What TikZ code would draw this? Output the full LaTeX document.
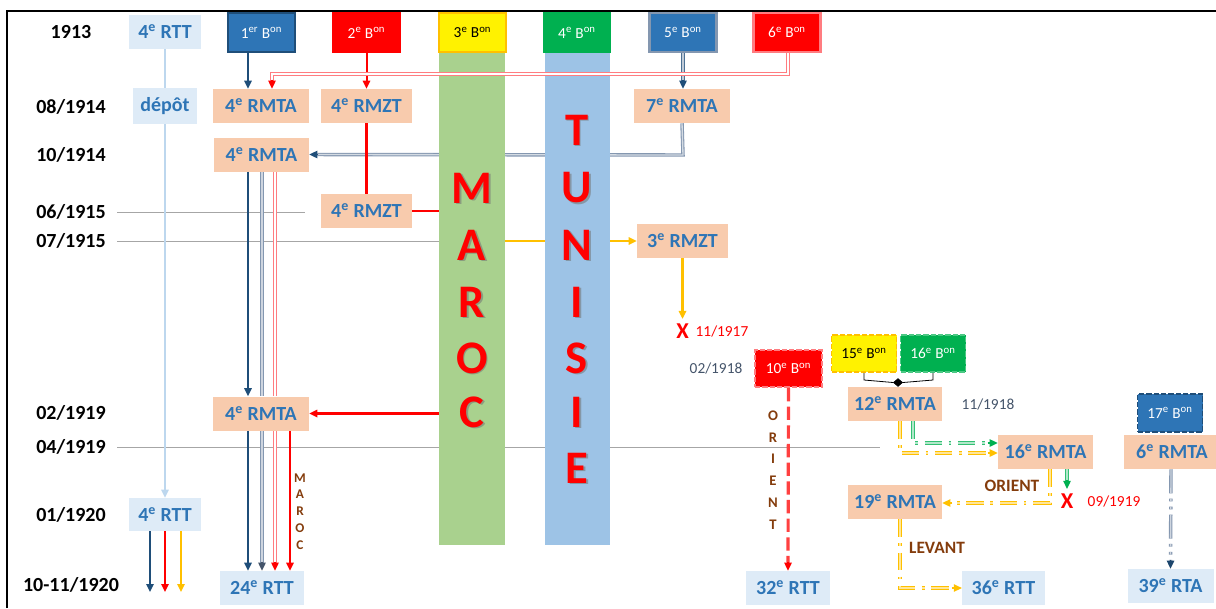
\documentclass[tikz,border=0pt]{standalone}
\usepackage{fontspec}
\setmainfont{Carlito}
\usetikzlibrary{arrows.meta,shapes.geometric,calc}
\definecolor{salmon}{HTML}{F8CBAD}
\definecolor{tblue}{HTML}{2E75B6}
\definecolor{ltbox}{HTML}{DEEBF7}
\definecolor{navy}{HTML}{1F4E79}
\definecolor{bonblue}{HTML}{2E75B6}
\definecolor{bongreen}{HTML}{00B050}
\definecolor{amber}{HTML}{FFC000}
\definecolor{brownish}{HTML}{843C0C}
\definecolor{bandg}{HTML}{A9D18E}
\definecolor{bandb}{HTML}{9DC3E6}
\definecolor{rttline}{HTML}{BDD7EE}
\definecolor{slate}{HTML}{44546A}
\definecolor{lred}{HTML}{FF7C80}
\definecolor{bgrey}{HTML}{8497B0}
\definecolor{gridgrey}{HTML}{A6A6A6}
\begin{document}
\begin{tikzpicture}[x=0.75pt,y=-0.75pt,
  yr/.style={font=\bfseries\fontsize{15}{18}\selectfont},
  salm/.style={fill=salmon,text=tblue,font=\bfseries\fontsize{15}{18}\selectfont,inner sep=0pt,minimum height=25.5pt},
  ltb/.style={fill=ltbox,text=tblue,font=\bfseries\fontsize{15}{18}\selectfont,inner sep=0pt,minimum height=25.5pt},
  bon/.style={font=\fontsize{11.5}{13}\selectfont,inner sep=0pt,minimum width=50.25pt,minimum height=29.25pt,text=white,line width=1.2pt},
  sbon/.style={bon,minimum width=48.75pt,minimum height=28pt,dashed,dash pattern=on 4pt off 1.5pt},
  band/.style={inner sep=0pt,minimum height=369.75pt},
  big/.style={font=\bfseries\fontsize{35}{40}\selectfont,text=red},
  bigsh/.style={font=\bfseries\fontsize{35}{40}\selectfont,text=black!55,opacity=.55},
  note/.style={font=\fontsize{11.5}{13}\selectfont},
  lbl/.style={font=\bfseries\fontsize{13}{15}\selectfont,text=brownish},
  xmark/.style={font=\bfseries\fontsize{17}{19}\selectfont,text=red},
  tipA/.style={-{Triangle[length=6pt,width=5.5pt]}},
  gridl/.style={draw=gridgrey,line width=0.7pt},
  dashdot/.style={dash pattern=on 13pt off 5pt on 2pt off 5pt},
]
\useasboundingbox (0,0) rectangle (1216,608);

% frame
\draw[line width=1.5pt] (7,608) -- (7,11) -- (1216,11);

% time axis
\node[yr] (y1913) at (71,32) {1913};
\node[yr] (y0814) at (71,107) {08/1914};
\node[yr] (y1014) at (71,155) {10/1914};
\node[yr] (y0615) at (71,212) {06/1915};
\node[yr] (y0715) at (71,241) {07/1915};
\node[yr] (y0219) at (71,413) {02/1919};
\node[yr] (y0419) at (71,447) {04/1919};
\node[yr] (y0120) at (71,515) {01/1920};
\node[yr] (y1120) at (71,585) {10-11/1920};

\draw[gridl] (117,212) -- (305,212);
\draw[gridl] (117,241) -- (440,241);
\draw[gridl] (117,447) -- (880,447);

% salmon regiment boxes
\node[salm,minimum width=72pt] (a1) at (261,106) {4\textsuperscript{e} RMTA};
\node[salm,minimum width=68.25pt] (z1) at (366.5,106) {4\textsuperscript{e} RMZT};
\node[salm,minimum width=72pt] (r7) at (682,106) {7\textsuperscript{e} RMTA};
\node[salm,minimum width=71.25pt] (a2) at (261.5,154.5) {4\textsuperscript{e} RMTA};
\node[salm,minimum width=68.25pt] (z2) at (366.5,211) {4\textsuperscript{e} RMZT};
\node[salm,minimum width=68.25pt] (z3) at (682.5,241) {3\textsuperscript{e} RMZT};

% connectors running behind the bands
\draw[draw=bgrey,double=bgrey!35,double distance=1pt,line width=0.8pt] (r7.south) -- (683,155) -- ($(a2.east)+(8,0)$);
\draw[draw=navy,line width=1pt,tipA] ($(a2.east)+(9,0)$) -- (a2.east);
\draw[draw=amber,line width=2pt,tipA] (505,241) -- (z3.west);

% bands
\node[band,fill=bandg,minimum width=49.5pt] (maroc) at (472,298.5) {};
\node[band,fill=bandb,minimum width=48.75pt] (tunisie) at (577.5,298.5) {};
\foreach \l/\yy [count=\i] in {M/188,A/245,R/302,O/358,C/412}{
  \node[bigsh] (mas\i) at (473.5,\yy+1.5) {\l};
  \node[big] (ma\i) at (472,\yy) {\l};
}
\foreach \l/\yy [count=\i] in {T/130,U/188,N/245,I/302,S/358,I/412,E/468}{
  \node[bigsh] (tus\i) at (578.5,\yy+1.5) {\l};
  \node[big] (tu\i) at (577,\yy) {\l};
}

% battalions, 1913
\node[bon,fill=bonblue,draw=navy] (b1) at (261.5,32.5) {1\textsuperscript{er} B\textsuperscript{on}};
\node[bon,fill=red,draw=red] (b2) at (366.5,32.5) {2\textsuperscript{e} B\textsuperscript{on}};
\node[bon,fill=yellow,draw=amber,text=black,line width=1.6pt] (b3) at (472.5,32.5) {3\textsuperscript{e} B\textsuperscript{on}};
\node[bon,fill=bongreen,draw=bongreen] (b4) at (577,32.5) {4\textsuperscript{e} B\textsuperscript{on}};
\node[bon,fill=bonblue,draw=bgrey,line width=1.6pt] (b5) at (683,32.5) {5\textsuperscript{e} B\textsuperscript{on}};
\node[bon,fill=red,draw=lred,line width=1.6pt] (b6) at (787,32.5) {6\textsuperscript{e} B\textsuperscript{on}};

% 4e RTT column
\node[ltb,minimum width=54pt] (t1) at (165,32) {4\textsuperscript{e} RTT};
\node[ltb,minimum width=48pt,minimum height=27pt] (dep) at (165,106) {dépôt};
\node[ltb,minimum width=54pt,minimum height=24.75pt] (t2) at (165,514.5) {4\textsuperscript{e} RTT};
\draw[draw=rttline,line width=2.2pt] (t1.south) -- (dep.north);
\draw[draw=rttline,line width=2.2pt,tipA] (dep.south) -- (t2.north);
\coordinate (e1) at (150,592);
\coordinate (e2) at (165,592);
\coordinate (e3) at (181,592);
\draw[draw=navy,line width=1.6pt,tipA] (t2.south -| e1) -- (e1);
\draw[draw=red,line width=1.6pt,tipA] (t2.south -| e2) -- (e2);
\draw[draw=amber,line width=1.6pt,tipA] (t2.south -| e3) -- (e3);

% 1913 -> 1914
\draw[draw=navy,line width=1.5pt,tipA] ($(b1.south)+(-13.5,0)$) -- ($(a1.north)+(-13,0)$);
\draw[draw=red,line width=1.5pt,tipA] (b2.south) -- (z1.north);
\draw[draw=navy!80,double=bgrey!50,double distance=0.9pt,line width=0.7pt] (b5.south) -- ($(r7.north)+(1,-8)$);
\draw[draw=navy,line width=1pt,tipA] ($(r7.north)+(1,-9)$) -- ($(r7.north)+(1,0)$);
\draw[draw=lred,double=white,double distance=1pt,line width=0.8pt] ($(b6.south)+(1,0)$) -- (788,74) -- (272,74) -- ($(a1.north)+(11,-8)$);
\draw[draw=red,line width=1pt,tipA] ($(a1.north)+(11,-9)$) -- ($(a1.north)+(11,0)$);

% 4e RMZT towards Morocco
\draw[draw=red,line width=1.6pt] (z1.south) -- (z2.north);
\draw[draw=red,line width=1.6pt] (z2.east) -- (z2.east -| maroc.west);

% 3e RMZT disbanded
\node[xmark] (x1) at (682.5,331) {X};
\node[note,text=red,anchor=west] (d1117) at (691,331) {11/1917};
\draw[draw=amber,line width=1.6pt,tipA] (z3.south -| x1) -- (x1.north);

% 1919 and the 24e RTT
\node[salm,minimum width=72pt] (a3) at (261,413.5) {4\textsuperscript{e} RMTA};
\node[ltb,minimum width=63pt] (t24) at (262,588) {24\textsuperscript{e} RTT};
\draw[draw=red,line width=1.6pt,tipA] (maroc.west |- a3.east) -- (a3.east);

\draw[draw=navy,line width=2.2pt,tipA] ($(a2.south)+(-13.5,0)$) -- ($(a3.north)+(-13,0)$);
\draw[draw=navy,line width=2.2pt,tipA] ($(a3.south)+(-13,0)$) -- ($(t24.north)+(-14,0)$);
\draw[draw=bgrey,double=bgrey!40,double distance=1pt,line width=0.8pt] ($(a2.south)+(0.5,0)$) -- ($(a3.north)+(1,0)$);
\draw[draw=bgrey,double=bgrey!40,double distance=1pt,line width=0.8pt] ($(a3.south)+(1,0)$) -- ($(t24.north)+(0,-8)$);
\draw[draw=slate,line width=1pt,tipA] ($(t24.north)+(0,-9)$) -- (t24.north);
\draw[draw=lred,double=white,double distance=1pt,line width=0.8pt] ($(a2.south)+(13.5,0)$) -- ($(a3.north)+(14,0)$);
\draw[draw=lred,double=white,double distance=1pt,line width=0.8pt] ($(a3.south)+(14,0)$) -- ($(t24.north)+(13,-8)$);
\draw[draw=red,line width=1pt,tipA] ($(t24.north)+(13,-9)$) -- ($(t24.north)+(13,0)$);
\draw[draw=red,line width=1.6pt,tipA] ($(a3.south)+(29,0)$) -- ($(t24.north)+(28,0)$);
\node[font=\bfseries\fontsize{10}{12.6}\selectfont,text=brownish,align=center] (marocv) at (300,511.5) {M\\A\\R\\O\\C};

% Orient: 10e bataillon
\node[sbon,fill=red,draw=lred,minimum width=50.25pt] (b10) at (788.5,368.5) {10\textsuperscript{e} B\textsuperscript{on}};
\node[note,text=slate,anchor=east] (d0218) at (747,368) {02/1918};
\node[ltb,minimum width=63pt] (t32) at (788,588) {32\textsuperscript{e} RTT};
\draw[draw=red!75,line width=2.4pt,dash pattern=on 10pt off 4pt] (b10.south) -- ($(t32.north)+(0,-8)$);
\draw[draw=red,line width=1pt,tipA] ($(t32.north)+(0,-9)$) -- (t32.north);
\node[font=\bfseries\fontsize{11}{16.3}\selectfont,text=brownish,align=center] (orientv) at (773,470) {O\\R\\I\\E\\N\\T};

% 15e and 16e bataillons -> 12e RMTA
\node[sbon,fill=yellow,draw=amber,text=black] (b15) at (864,353.5) {15\textsuperscript{e} B\textsuperscript{on}};
\node[sbon,fill=bongreen,draw=bongreen!70] (b16) at (933,353.5) {16\textsuperscript{e} B\textsuperscript{on}};
\node[salm,minimum width=70.5pt] (r12) at (895,404) {12\textsuperscript{e} RMTA};
\node[draw=black,fill=black,diamond,inner sep=0pt,minimum width=7pt,minimum height=6pt] (dm) at (898,382.5) {};
\draw[line width=0.6pt] (b15.south) -- (864,380) -- (dm.west);
\draw[line width=0.6pt] (b16.south) -- (933,380) -- (dm.east);
\node[note,text=slate] (d1118) at (988,404) {11/1918};

% 16e, 19e, 6e RMTA
\node[salm,minimum width=71.25pt] (r16) at (1045.5,452) {16\textsuperscript{e} RMTA};
\node[salm,minimum width=72pt] (r6) at (1172,452) {6\textsuperscript{e} RMTA};
\node[sbon,fill=bonblue,draw=navy,minimum height=28.5pt] (b17) at (1170,413) {17\textsuperscript{e} B\textsuperscript{on}};
\node[salm,minimum width=70.5pt] (r19) at (895,502) {19\textsuperscript{e} RMTA};
\node[ltb,minimum width=62pt] (t36) at (1003.5,588) {36\textsuperscript{e} RTT};
\node[ltb,minimum width=64.5pt] (t39) at (1170.5,586) {39\textsuperscript{e} RTA};

\draw[draw=amber,double=amber!40,double distance=1pt,line width=0.8pt,dashdot] ($(r12.south)+(5,0)$) -- (900,453) -- ($(r16.west)+(-9,1)$);
\draw[draw=amber,line width=1pt,tipA] ($(r16.west)+(-10,1)$) -- ($(r16.west)+(0,1)$);
\draw[draw=bongreen!80,double=bongreen!30,double distance=1pt,line width=0.8pt,dashdot] ($(r12.south)+(18,0)$) -- (913,443) -- ($(r16.west)+(-9,-9)$);
\draw[draw=bongreen,line width=1pt,tipA] ($(r16.west)+(-10,-9)$) -- ($(r16.west)+(0,-9)$);

\node[xmark] (x2) at (1067,501) {X};
\node[note,text=red] (d0919) at (1114,501) {09/1919};
\draw[draw=bongreen!80,double=bongreen!30,double distance=1pt,line width=0.8pt] (r16.south -| x2) -- ($(x2.north)+(0,-8)$);
\draw[draw=bongreen,line width=1pt,tipA] ($(x2.north)+(0,-9)$) -- (x2.north);

\draw[draw=amber,double=amber!40,double distance=1pt,line width=0.8pt,dashdot] ($(r16.south)+(4.5,0)$) -- (1050,503) -- ($(r19.east)+(9,1)$);
\draw[draw=amber,line width=1pt,tipA] ($(r19.east)+(10,1)$) -- ($(r19.east)+(0,1)$);
\node[lbl] (orienth) at (1012,486) {ORIENT};

\draw[draw=amber,double=amber!40,double distance=1pt,line width=0.8pt,dashdot] ($(r19.south)+(5,0)$) -- (900,588) -- ($(t36.west)+(-9,0)$);
\draw[draw=amber,line width=1pt,tipA] ($(t36.west)+(-10,0)$) -- (t36.west);
\node[lbl] (levant) at (937,548) {LEVANT};

\draw[draw=bgrey,double=bgrey!40,double distance=1pt,line width=0.8pt,dash pattern=on 18pt off 4pt on 2pt off 4pt on 2pt off 4pt] ($(r6.south)+(-1,0)$) -- ($(t39.north)+(0,-8)$);
\draw[draw=navy!90!black,line width=1pt,tipA] ($(t39.north)+(0,-9)$) -- (t39.north);
\end{tikzpicture}
\end{document}
